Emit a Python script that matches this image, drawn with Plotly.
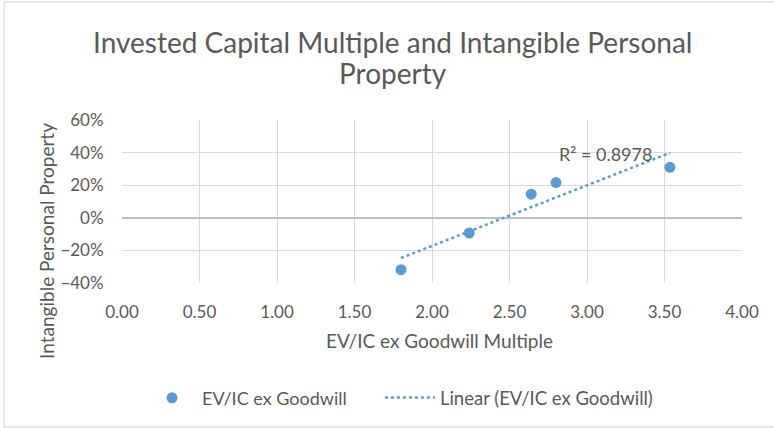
import numpy as np
import plotly.graph_objects as go

ev_ic = [1.80, 2.24, 2.64, 2.80, 3.535]
ipp = [-0.318, -0.094, 0.145, 0.216, 0.31]
x_ticks = [0, 0.5, 1.0, 1.5, 2.0, 2.5, 3.0, 3.5, 4.0]
y_ticks = [-0.4, -0.2, 0, 0.2, 0.4, 0.6]
r2_label = "R² = 0.8978"
title_lines = ["Invested Capital Multiple and Intangible Personal", "Property"]
x_title = "EV/IC ex Goodwill Multiple"
y_title = "Intangible Personal Property"

slope, intercept = np.polyfit(ev_ic, ipp, 1)
tx = [min(ev_ic), max(ev_ic)]
ty = [slope * v + intercept for v in tx]

blue = "#5b9bd5"
grey = "#595959"
font = "Lato, Open Sans, sans-serif"

fig = go.Figure()
fig.add_trace(go.Scatter(x=ev_ic, y=ipp, mode="markers", name="EV/IC ex Goodwill",
                         marker=dict(color=blue, size=11), legend="legend"))
fig.add_trace(go.Scatter(x=tx, y=ty, mode="lines", name="Linear (EV/IC ex Goodwill)",
                         line=dict(color=blue, width=2.5, dash="dot"), legend="legend2"))
fig.add_annotation(x=3.12, y=0.39, text=r2_label, showarrow=False,
                   font=dict(size=18, color=grey, family=font))
for line, py in zip(title_lines, [1.478, 1.288]):
    fig.add_annotation(xref="paper", yref="paper", x=0.437, y=py, text=line,
                       showarrow=False, xanchor="center", yanchor="middle",
                       font=dict(size=28, color=grey, family=font))
fig.add_annotation(xref="paper", yref="paper", x=0.512, y=-0.35, text=x_title,
                   showarrow=False, xanchor="center", yanchor="middle",
                   font=dict(size=19, color=grey, family=font))
fig.add_annotation(xref="paper", yref="paper", x=-0.121, y=0.258, text=y_title,
                   showarrow=False, xanchor="center", yanchor="middle", textangle=-90,
                   font=dict(size=19, color=grey, family=font))

fig.update_layout(
    width=774, height=428,
    paper_bgcolor="white", plot_bgcolor="white",
    margin=dict(l=122, r=32, t=120, b=145, autoexpand=False),
    font=dict(family=font, color=grey),
    xaxis=dict(range=[0, 4], tickvals=x_ticks, tickformat=".2f",
               showgrid=True, gridcolor="#d9d9d9", gridwidth=1,
               zeroline=False, showline=False, automargin=False,
               ticks="outside", ticklen=14, tickcolor="rgba(0,0,0,0)",
               tickfont=dict(size=17, color=grey)),
    yaxis=dict(range=[-0.4, 0.6], tickvals=y_ticks, tickformat=".0%",
               showgrid=True, gridcolor="#d9d9d9", gridwidth=1,
               zeroline=True, zerolinecolor="#bfbfbf", zerolinewidth=2, showline=False,
               automargin=False,
               ticks="outside", ticklen=14, tickcolor="rgba(0,0,0,0)",
               tickfont=dict(size=17, color=grey)),
    legend=dict(orientation="h", x=0.0323, xanchor="left", y=-0.706, yanchor="middle",
                font=dict(size=18, color=grey), itemwidth=50, bgcolor="rgba(0,0,0,0)"),
    legend2=dict(orientation="h", x=0.416, xanchor="left", y=-0.706, yanchor="middle",
                 font=dict(size=18.5, color=grey), itemwidth=50, bgcolor="rgba(0,0,0,0)"),
    showlegend=True,
)
fig.add_shape(type="rect", xref="paper", yref="paper", x0=-0.190, y0=-0.883, x1=1.055, y1=1.724,
              line=dict(color="#e0e0e0", width=1.5))
fig.write_html("out.html", config={"displayModeBar": False},
               post_script="document.body.style.margin='0';")
